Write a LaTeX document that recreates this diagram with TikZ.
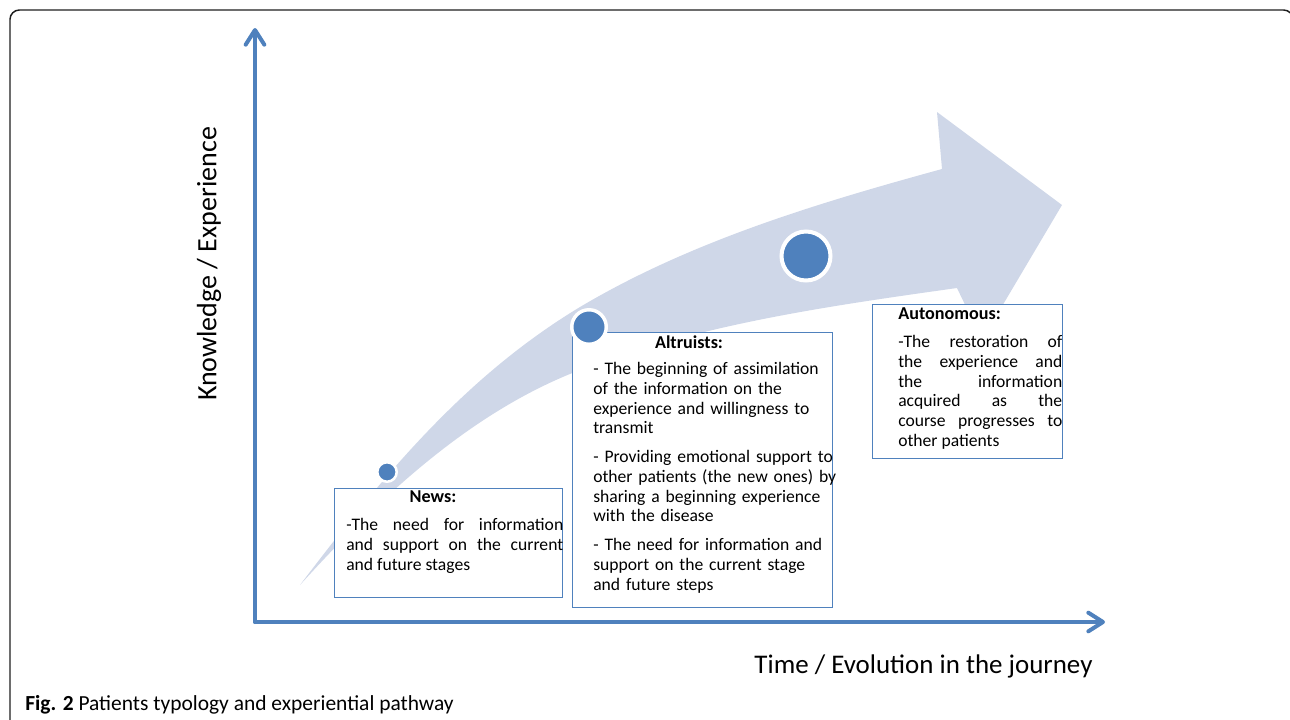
\documentclass[tikz,border=0pt]{standalone}
\usepackage{fontspec}
\setmainfont{Carlito}
\usetikzlibrary{arrows.meta}
\definecolor{axblue}{RGB}{79,129,189}
\definecolor{boxblue}{RGB}{79,129,189}
\definecolor{arrfill}{RGB}{207,215,232}
\definecolor{framegray}{RGB}{30,30,30}
\begin{document}
\begin{tikzpicture}[x=0.75pt,y=-0.75pt,
  axis/.style={line width=3pt, draw=axblue, line cap=round, -{Straight Barb[length=11pt,width=14pt,round]}},
  infobox/.style={draw=boxblue, line width=1.1pt, fill=white, inner sep=0pt, anchor=north west},
  dot/.style={circle, fill=axblue, draw=white, inner sep=0pt},
  title/.style={font=\fontsize{13.6}{14.8}\selectfont\bfseries, inner sep=0pt},
  body/.style={font=\fontsize{13.2}{14.8}\selectfont, inner sep=0pt, anchor=north west},
  axlabel/.style={font=\fontsize{20.2}{24}\selectfont, inner sep=0pt}]
\useasboundingbox (0,0) rectangle (1290,719);
% frame
\draw[framegray, line width=1.1pt, rounded corners=7pt] (10,740) -- (10,10) -- (1293,10) -- (1293,740);
% big curved arrow
\fill[arrfill] (300,585) .. controls (382,477) and (464,377) .. (580,307)
  .. controls (691,241) and (818,203) .. (942,169)
  -- (937,112) -- (1062,205) -- (982,340) -- (957,288)
  .. controls (829,306) and (701,324) .. (580,370)
  .. controls (470,412) and (379,498) .. (300,585) -- cycle;
% axes
\coordinate (o) at (255,622);
\coordinate (ytop) at (255,28);
\coordinate (xend) at (1105,622);
\draw[axis] (o) -- (ytop);
\draw[axis] (o) -- (xend);
\node[axlabel, rotate=90, font=\fontsize{21}{24}\selectfont] (ylab) at (209,264) {Knowledge / Experience};
\node[axlabel, anchor=base] (xlab) at (923.5,673) {Time / Evolution in the journey};
% boxes
\node[infobox, minimum width=171pt, minimum height=81.75pt] (newsbox) at (334,488) {};
\node[infobox, minimum width=195pt, minimum height=206.25pt] (altbox) at (572,332) {};
\node[infobox, minimum width=142.5pt, minimum height=115.5pt] (autobox) at (872,304) {};
% dots
\node[dot, minimum size=14.6pt, line width=1.9pt] (d1) at (387,472) {};
\node[dot, minimum size=25.9pt, line width=2.6pt] (d2) at (589,327) {};
\node[dot, minimum size=36.75pt, line width=3pt] (d3) at (806,256) {};
% texts
\node[title, anchor=base] (newst) at (433,502) {News:};
\node[body, text width=162.75pt, align=justify] (newsb) at (346,516.7)
  {\strut-The need for information\linebreak and support on the current\linebreak and future stages};
\node[title, anchor=base] (altt) at (689,348.5) {Altruists:};
\node[body, text width=240pt, align=left] (altb) at (593,360.7)
  {\strut- The beginning of assimilation\\ of the information on the\\ experience and willingness to\\ transmit\\[6.75pt]
   - Providing emotional support to\\ other patients (the new ones) by\\ sharing a beginning experience\\ with the disease\\[6.75pt]
   - The need for information and\\ support on the current stage\\ and future steps};
\node[title, anchor=base west] (autot) at (898,319.5) {Autonomous:};
\node[body, text width=123pt, align=justify] (autob) at (898,333.7)
  {\strut-The restoration of\linebreak the experience and\linebreak the information\linebreak acquired as the\linebreak course progresses to\linebreak other patients};
% caption
\node[anchor=base west, inner sep=0pt, font=\fontsize{16.1}{18}\selectfont] (cap) at (25,710)
  {\textbf{Fig. 2} Patients typology and experiential pathway};
\end{tikzpicture}
\end{document}
